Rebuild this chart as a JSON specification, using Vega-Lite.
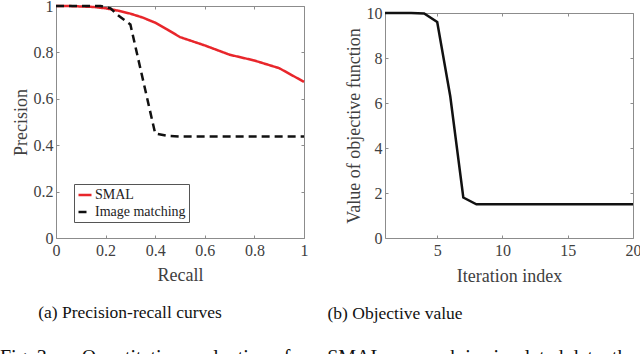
{
  "$schema": "https://vega.github.io/schema/vega-lite/v6.json",
  "padding": {"left": 0, "top": -3, "right": 4, "bottom": 0},
  "background": "white",
  "config": {
    "font": "Liberation Serif",
    "view": {"stroke": "#8c8c8c", "strokeWidth": 1},
    "style": {
      "guide-label": {"font": "Liberation Serif", "fontSize": 16, "fill": "#404040"},
      "guide-title": {"font": "Liberation Serif", "fontSize": 18, "fill": "#404040", "fontWeight": "normal"}
    },
    "axis": {
      "domain": false, "grid": false, "tickSize": -3, "tickColor": "#8c8c8c", "tickWidth": 1,
      "labelFont": "Liberation Serif", "labelFontSize": 16, "labelColor": "#404040",
      "titleFont": "Liberation Serif", "titleFontSize": 18, "titleFontWeight": "normal", "titleColor": "#404040",
      "labelFlush": false, "labelOverlap": false
    },
    "legend": {
      "orient": "none", "legendX": 18, "legendY": 178,
      "strokeColor": "#555555", "fillColor": "white", "padding": 3,
      "symbolType": "stroke", "symbolSize": 169, "symbolStrokeWidth": 2.5,
      "labelFont": "Liberation Serif", "labelFontSize": 14, "labelColor": "#222222",
      "rowPadding": 2, "labelOffset": 2, "title": null
    },
    "concat": {"spacing": 14}
  },
  "title": {
    "text": "Fig. 3.\u00a0\u00a0\u00a0\u00a0\u00a0 Quantitative evaluation of our SMAL approach in simulated data, the",
    "orient": "bottom", "anchor": "start", "frame": "group", "offset": 25, "dx": -56,
    "font": "Liberation Serif", "fontSize": 20, "fontWeight": "normal", "color": "#111111"
  },
  "hconcat": [
    {
      "width": 248, "height": 232,
      "title": {"text": "(a)  Precision-recall curves", "orient": "bottom", "offset": 20, "dx": -50,
        "font": "Liberation Serif", "fontSize": 17.5, "fontWeight": "normal", "color": "#111111"},
      "data": {"values": [
        {"method": "SMAL", "recall": 0, "precision": 1},
        {"method": "SMAL", "recall": 0.05, "precision": 1},
        {"method": "SMAL", "recall": 0.1, "precision": 0.998},
        {"method": "SMAL", "recall": 0.15, "precision": 0.996},
        {"method": "SMAL", "recall": 0.2, "precision": 0.99},
        {"method": "SMAL", "recall": 0.25, "precision": 0.98},
        {"method": "SMAL", "recall": 0.3, "precision": 0.967},
        {"method": "SMAL", "recall": 0.35, "precision": 0.95},
        {"method": "SMAL", "recall": 0.4, "precision": 0.928},
        {"method": "SMAL", "recall": 0.45, "precision": 0.898},
        {"method": "SMAL", "recall": 0.5, "precision": 0.866},
        {"method": "SMAL", "recall": 0.6, "precision": 0.83},
        {"method": "SMAL", "recall": 0.7, "precision": 0.79},
        {"method": "SMAL", "recall": 0.8, "precision": 0.765},
        {"method": "SMAL", "recall": 0.9, "precision": 0.732},
        {"method": "SMAL", "recall": 1, "precision": 0.673},
        {"method": "Image matching", "recall": 0, "precision": 1},
        {"method": "Image matching", "recall": 0.18, "precision": 1},
        {"method": "Image matching", "recall": 0.22, "precision": 0.99},
        {"method": "Image matching", "recall": 0.25, "precision": 0.96},
        {"method": "Image matching", "recall": 0.3, "precision": 0.92},
        {"method": "Image matching", "recall": 0.4, "precision": 0.45},
        {"method": "Image matching", "recall": 0.45, "precision": 0.44},
        {"method": "Image matching", "recall": 0.5, "precision": 0.437},
        {"method": "Image matching", "recall": 1, "precision": 0.437}
      ]},
      "layer": [
        {
          "mark": {"type": "line", "strokeWidth": 2.5},
          "encoding": {
            "x": {"field": "recall", "type": "quantitative", "scale": {"domain": [0, 1], "nice": false},
              "axis": {"title": "Recall", "values": [0, 0.2, 0.4, 0.6, 0.8, 1], "format": ".1~f", "labelPadding": 7, "titlePadding": 8, "labelFont": "Liberation Serif"}},
            "y": {"field": "precision", "type": "quantitative", "scale": {"domain": [0, 1], "nice": false},
              "axis": {"title": "Precision", "values": [0, 0.2, 0.4, 0.6, 0.8, 1], "format": ".1~f", "labelPadding": 6, "titlePadding": 3, "labelFont": "Liberation Serif"}},
            "color": {"field": "method", "type": "nominal",
              "scale": {"domain": ["SMAL", "Image matching"], "range": ["#e8262b", "#111111"]},
              "legend": {"labelFont": "Liberation Serif"}},
            "strokeDash": {"field": "method", "type": "nominal",
              "scale": {"domain": ["SMAL", "Image matching"], "range": [[1, 0], [8, 5]]},
              "legend": {"labelFont": "Liberation Serif"}}
          }
        },
        {
          "mark": {"type": "line", "opacity": 0},
          "encoding": {
            "x": {"field": "recall", "type": "quantitative",
              "axis": {"orient": "top", "labels": false, "title": null, "values": [0, 0.2, 0.4, 0.6, 0.8, 1]}},
            "y": {"field": "precision", "type": "quantitative",
              "axis": {"orient": "right", "labels": false, "title": null, "values": [0, 0.2, 0.4, 0.6, 0.8, 1]}},
            "detail": {"field": "method", "type": "nominal"}
          }
        }
      ],
      "resolve": {"axis": {"x": "independent", "y": "independent"}}
    },
    {
      "spacing": -3,
      "vconcat": [
        {
          "width": 248, "height": 1,
          "view": {"stroke": null},
          "data": {"values": []},
          "mark": "point"
        },
        {
          "width": 248, "height": 225,
          "title": {"text": "(b)  Objective value", "orient": "bottom", "offset": 20, "dx": -114,
            "font": "Liberation Serif", "fontSize": 17.5, "fontWeight": "normal", "color": "#111111"},
          "data": {"values": [
            {"iteration": 1, "objective": 10},
            {"iteration": 2, "objective": 10},
            {"iteration": 3, "objective": 10},
            {"iteration": 4, "objective": 9.98},
            {"iteration": 5, "objective": 9.6},
            {"iteration": 6, "objective": 6.3},
            {"iteration": 7, "objective": 1.8},
            {"iteration": 8, "objective": 1.5},
            {"iteration": 9, "objective": 1.5},
            {"iteration": 10, "objective": 1.5},
            {"iteration": 11, "objective": 1.5},
            {"iteration": 12, "objective": 1.5},
            {"iteration": 13, "objective": 1.5},
            {"iteration": 14, "objective": 1.5},
            {"iteration": 15, "objective": 1.5},
            {"iteration": 16, "objective": 1.5},
            {"iteration": 17, "objective": 1.5},
            {"iteration": 18, "objective": 1.5},
            {"iteration": 19, "objective": 1.5},
            {"iteration": 20, "objective": 1.5}
          ]},
          "layer": [
            {
              "mark": {"type": "line", "strokeWidth": 2.5, "color": "#111111"},
              "encoding": {
                "x": {"field": "iteration", "type": "quantitative", "scale": {"domain": [1, 20], "nice": false},
                  "axis": {"title": "Iteration index", "values": [5, 10, 15, 20], "labelPadding": 7, "titlePadding": 9, "labelFont": "Liberation Serif"}},
                "y": {"field": "objective", "type": "quantitative", "scale": {"domain": [0, 10], "nice": false},
                  "axis": {"title": "Value of objective function", "values": [0, 2, 4, 6, 8, 10], "labelPadding": 6, "titlePadding": 3, "labelFont": "Liberation Serif"}}
              }
            },
            {
              "mark": {"type": "line", "opacity": 0},
              "encoding": {
                "x": {"field": "iteration", "type": "quantitative",
                  "axis": {"orient": "top", "labels": false, "title": null, "values": [5, 10, 15, 20]}},
                "y": {"field": "objective", "type": "quantitative",
                  "axis": {"orient": "right", "labels": false, "title": null, "values": [0, 2, 4, 6, 8, 10]}}
              }
            }
          ],
          "resolve": {"axis": {"x": "independent", "y": "independent"}}
        }
      ]
    }
  ]
}
